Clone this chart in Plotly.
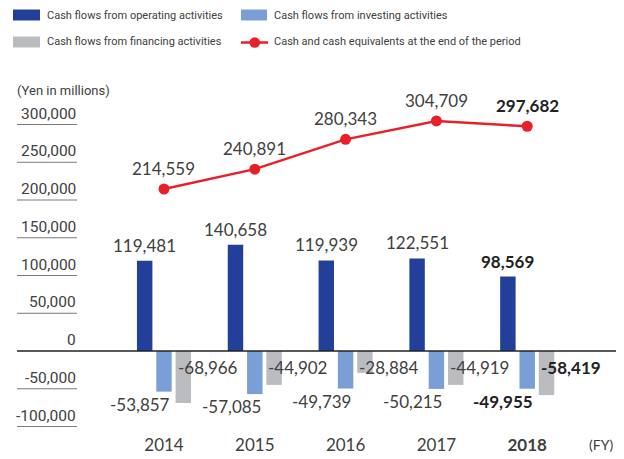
import plotly.graph_objects as go

years = ["2014", "2015", "2016", "2017", "2018"]
operating = [119481, 140658, 119939, 122551, 98569]
investing = [-53857, -57085, -49739, -50215, -49955]
financing = [-68966, -44902, -28884, -44919, -58419]
cash_end = [214559, 240891, 280343, 304709, 297682]
bold_flags = [False, False, False, False, True]

y_ticks = [-100000, -50000, 0, 50000, 100000, 150000, 200000, 250000, 300000]
y_tick_labels = ["-100,000", "-50,000", "0", "50,000", "100,000",
                 "150,000", "200,000", "250,000", "300,000"]
x_tick_labels = ["2014", "2015", "2016", "2017", "<b>2018</b>"]

names = ["Cash flows from operating activities",
         "Cash flows from investing activities",
         "Cash flows from financing activities",
         "Cash and cash equivalents at the end of the period"]

C_OP = "#22409a"
C_INV = "#7a9fd6"
C_FIN = "#bbbcc0"
C_LINE = "#e8202a"
TXT = "#404040"
DATA_FONT = "Lato, Open Sans, sans-serif"
NARROW = "Roboto, Liberation Sans, sans-serif"

BARGAP = 0.362
BARGROUPGAP = 0.2

# page body adds an 8px offset; layout designed in screen pixels
OFF = 8
W, H = 624, 451
ML, MR, MT, MB = 69, 8, 92, 29
PW, PH = W - ML - MR, H - MT - MB


def px_x(p):
    return (p - OFF - ML) / PW


def px_y(p):
    return (H - MB - (p - OFF)) / PH


def fmt(v, bold):
    s = f"{v:,}"
    return f"<b>{s}</b>" if bold else s


fig = go.Figure()
fig.add_trace(go.Bar(x=years, y=operating, name=names[0], marker_color=C_OP,
                     marker_line_width=0))
fig.add_trace(go.Bar(x=years, y=investing, name=names[1], marker_color=C_INV,
                     marker_line_width=0))
fig.add_trace(go.Bar(x=years, y=financing, name=names[2], marker_color=C_FIN,
                     marker_line_width=0))
fig.add_trace(go.Scatter(
    x=years, y=cash_end, name=names[3], mode="lines+markers",
    line=dict(color=C_LINE, width=2.5),
    marker=dict(color=C_LINE, size=11),
    cliponaxis=False,
))

slot = (1 - BARGAP) / 3
half_bar = slot * (1 - BARGROUPGAP) / 2

annotations = []
shapes = []
for i in range(len(years)):
    b = bold_flags[i]
    col = "#222222" if b else TXT
    annotations.append(dict(
        x=i - slot, y=operating[i], xref="x", yref="y",
        text=fmt(operating[i], b), showarrow=False,
        xanchor="center", yanchor="bottom", yshift=3,
        font=dict(family=DATA_FONT, size=17, color=col)))
    annotations.append(dict(
        x=i + half_bar, y=investing[i], xref="x", yref="y",
        text=fmt(investing[i], b), showarrow=False,
        xanchor="right", yanchor="top", yshift=0,
        font=dict(family=DATA_FONT, size=17, color=col)))
    annotations.append(dict(
        x=i + slot - half_bar, y=0, xref="x", yref="y",
        text=fmt(financing[i], b), showarrow=False,
        xanchor="left", yanchor="top", yshift=-4,
        font=dict(family=DATA_FONT, size=17, color=col)))
    annotations.append(dict(
        x=i, y=cash_end[i], xref="x", yref="y",
        text=fmt(cash_end[i], b), showarrow=False,
        xanchor="center", yanchor="bottom", yshift=8,
        font=dict(family=DATA_FONT, size=17, color=col)))

# y tick labels sitting on short rules
for v, lab in zip(y_ticks, y_tick_labels):
    if v != 0:
        shapes.append(dict(type="line", xref="paper", yref="y",
                           x0=px_x(17), x1=px_x(77), y0=v, y1=v,
                           line=dict(color="#7a7a7a", width=1)))
    annotations.append(dict(
        x=px_x(78), y=v, xref="paper", yref="y", text=lab, showarrow=False,
        xanchor="right", yanchor="bottom", yshift=0,
        font=dict(family=NARROW, size=15.5, color=TXT)))

# zero line across full width
shapes.append(dict(type="line", xref="paper", yref="y", x0=px_x(17), x1=px_x(624),
                   y0=0, y1=0, line=dict(color="#222222", width=1.5)))

annotations.append(dict(
    x=px_x(615), y=px_y(444), xref="paper", yref="paper",
    text="(FY)", showarrow=False, xanchor="right", yanchor="middle",
    font=dict(family=DATA_FONT, size=14, color=TXT)))
annotations.append(dict(
    x=px_x(15), y=px_y(91), xref="paper", yref="paper",
    text="(Yen in millions)", showarrow=False, xanchor="left", yanchor="middle",
    font=dict(family=NARROW, size=13, color=TXT)))

# legend drawn as swatches + text
leg = [
    (0, 13, 40, 15),
    (1, 241, 267, 15),
    (2, 13, 40, 42),
]
colors = [C_OP, C_INV, C_FIN]
for idx, x0, x1, yc in leg:
    shapes.append(dict(type="rect", xref="paper", yref="paper",
                       x0=px_x(x0), x1=px_x(x1), y0=px_y(yc - 5.5), y1=px_y(yc + 5.5),
                       fillcolor=colors[idx], line=dict(width=0)))
    annotations.append(dict(
        x=px_x(x1 + 5), y=px_y(yc), xref="paper", yref="paper",
        text=names[idx], showarrow=False, xanchor="left", yanchor="middle",
        font=dict(family=NARROW, size=11, color=TXT)))
shapes.append(dict(type="line", xref="paper", yref="paper",
                   x0=px_x(241), x1=px_x(268), y0=px_y(42.5), y1=px_y(42.5),
                   line=dict(color=C_LINE, width=2.5)))
shapes.append(dict(type="circle", xref="paper", yref="paper",
                   x0=px_x(249.5), x1=px_x(260), y0=px_y(37.2), y1=px_y(47.7),
                   fillcolor=C_LINE, line=dict(width=0)))
annotations.append(dict(
    x=px_x(272), y=px_y(42), xref="paper", yref="paper",
    text=names[3], showarrow=False, xanchor="left", yanchor="middle",
    font=dict(family=NARROW, size=11, color=TXT)))

fig.update_layout(
    width=W, height=H,
    margin=dict(l=ML, r=MR, t=MT, b=MB, autoexpand=False),
    paper_bgcolor="white", plot_bgcolor="white",
    barmode="group", bargap=BARGAP, bargroupgap=BARGROUPGAP,
    showlegend=False,
    annotations=annotations,
    shapes=shapes,
    font=dict(family=DATA_FONT, color=TXT),
)
fig.update_xaxes(type="category", range=[-0.958, 5.066], automargin=False,
                 tickvals=years, ticktext=x_tick_labels, ticklabelstandoff=3,
                 showgrid=False, zeroline=False, showline=False, ticks="",
                 tickfont=dict(family=DATA_FONT, size=17, color=TXT))
fig.update_yaxes(range=[-104636, 332450], automargin=False,
                 showticklabels=False, ticks="",
                 showgrid=False, zeroline=False, showline=False)

fig.write_html("out.html")
